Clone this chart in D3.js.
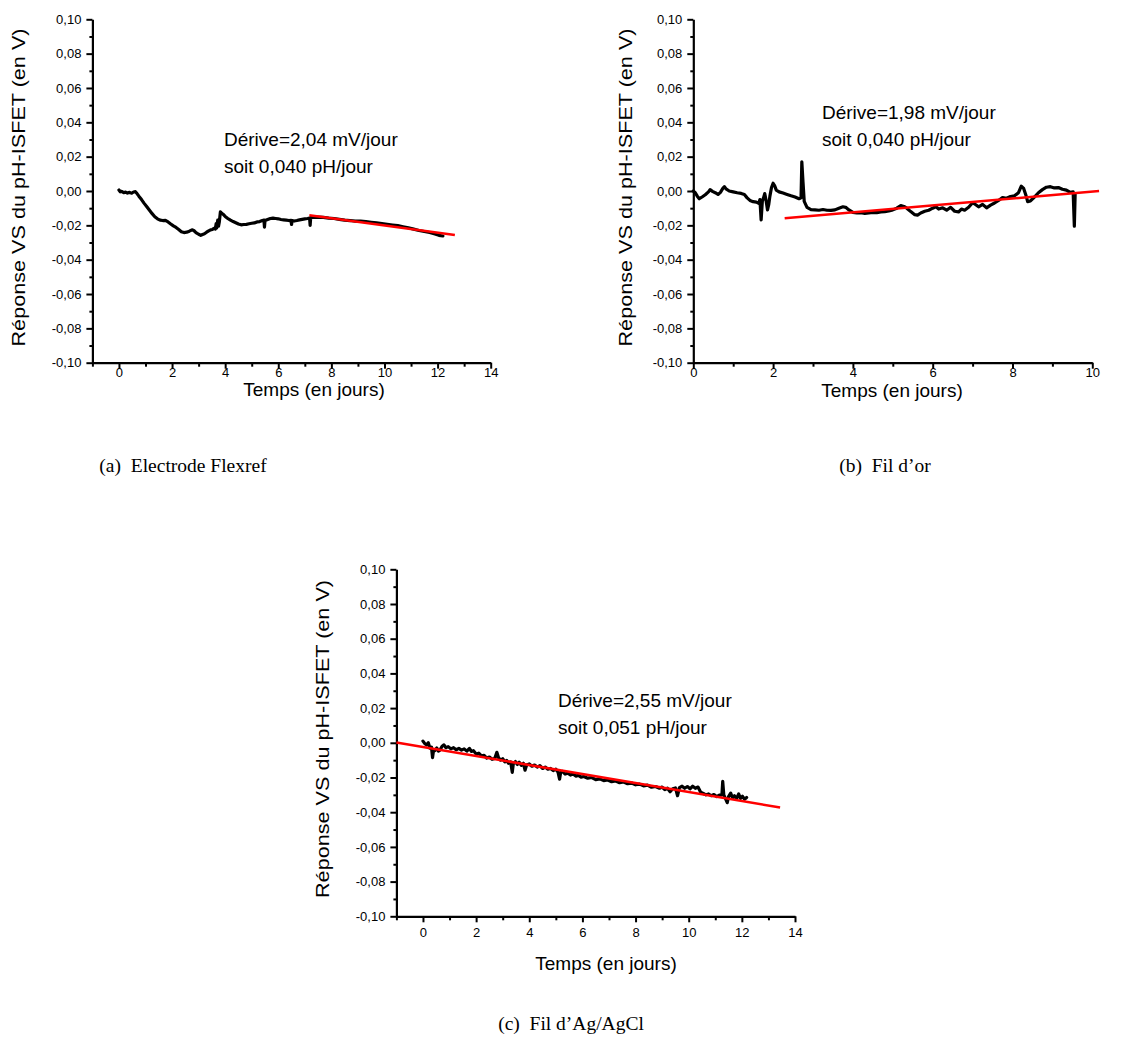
<!DOCTYPE html>
<html>
<head>
<meta charset="utf-8">
<script src="https://cdn.jsdelivr.net/npm/d3@7"></script>
<style>
  html, body { margin: 0; padding: 0; background: #fff; }
  svg { display: block; }
  .sans { font-family: "Liberation Sans", Arial, sans-serif; }
  .serif { font-family: "Liberation Serif", "Times New Roman", serif; }
</style>
</head>
<body>
<svg id="chart" width="1146" height="1056"></svg>
<script>
// ---------------- DATA ----------------
const yMajorTicks = [-0.10, -0.08, -0.06, -0.04, -0.02, 0.00, 0.02, 0.04, 0.06, 0.08, 0.10];
const yMinorTicks = [-0.09, -0.07, -0.05, -0.03, -0.01, 0.01, 0.03, 0.05, 0.07, 0.09];
const xMajorTicks14 = [0, 2, 4, 6, 8, 10, 12, 14];
const xMinorTicks14 = [-1, 1, 3, 5, 7, 9, 11, 13];
const xMajorTicks10 = [0, 2, 4, 6, 8, 10];
const xMinorTicks10 = [1, 3, 5, 7, 9];

const yTitle = "Réponse VS du pH-ISFET (en V)";
const xTitle = "Temps (en jours)";

// Panel (a) Electrode Flexref
const daysA = [0.00,0.05,0.10,0.18,0.25,0.32,0.40,0.48,0.55,0.62,0.68,0.75,0.85,0.95,1.05,1.15,1.25,1.35,1.45,1.55,1.65,1.75,1.85,1.95,2.05,2.15,2.25,2.35,2.45,2.55,2.65,2.75,2.82,2.90,3.00,3.08,3.15,3.22,3.30,3.38,3.45,3.52,3.58,3.63,3.66,3.68,3.72,3.75,3.78,3.82,3.86,3.92,4.00,4.10,4.20,4.30,4.40,4.50,4.60,4.70,4.80,4.90,5.00,5.10,5.20,5.30,5.40,5.46,5.48,5.50,5.60,5.70,5.80,5.90,6.00,6.10,6.20,6.30,6.40,6.48,6.50,6.52,6.60,6.70,6.80,6.90,7.00,7.10,7.18,7.20,7.22,7.30,7.50,7.70,7.90,8.10,8.30,8.50,8.70,8.90,9.10,9.30,9.50,9.70,9.90,10.10,10.30,10.50,10.70,10.90,11.10,11.30,11.50,11.70,11.90,12.05,12.20];
const voltsA = [0.0006,-0.0005,-0.0002,-0.0010,-0.0006,-0.0012,-0.0008,-0.0013,-0.0006,-0.0004,-0.0015,-0.0030,-0.0050,-0.0072,-0.0092,-0.0112,-0.0132,-0.0150,-0.0162,-0.0170,-0.0172,-0.0171,-0.0180,-0.0192,-0.0203,-0.0212,-0.0224,-0.0237,-0.0242,-0.0240,-0.0234,-0.0226,-0.0230,-0.0242,-0.0252,-0.0258,-0.0253,-0.0249,-0.0240,-0.0232,-0.0226,-0.0224,-0.0218,-0.0222,-0.0190,-0.0215,-0.0170,-0.0205,-0.0180,-0.0122,-0.0128,-0.0135,-0.0148,-0.0160,-0.0170,-0.0178,-0.0185,-0.0192,-0.0197,-0.0195,-0.0194,-0.0191,-0.0188,-0.0186,-0.0180,-0.0178,-0.0172,-0.0170,-0.0210,-0.0172,-0.0166,-0.0160,-0.0158,-0.0160,-0.0162,-0.0166,-0.0168,-0.0170,-0.0172,-0.0171,-0.0195,-0.0172,-0.0175,-0.0172,-0.0168,-0.0165,-0.0162,-0.0160,-0.0158,-0.0200,-0.0155,-0.0154,-0.0152,-0.0154,-0.0158,-0.0160,-0.0165,-0.0170,-0.0172,-0.0175,-0.0176,-0.0178,-0.0182,-0.0186,-0.0190,-0.0194,-0.0198,-0.0202,-0.0208,-0.0214,-0.0222,-0.0230,-0.0236,-0.0242,-0.0250,-0.0258,-0.0262];
const fitDaysA = [7.17, 12.65];
const fitVoltsA = [-0.0141, -0.0256];
const noteA = ["Dérive=2,04 mV/jour", "soit 0,040 pH/jour"];
const captionA = "(a)  Electrode Flexref";

// Panel (b) Fil d'or
const daysB = [0.00,0.05,0.10,0.15,0.22,0.30,0.38,0.42,0.48,0.55,0.62,0.68,0.74,0.78,0.82,0.90,1.00,1.10,1.20,1.28,1.35,1.42,1.50,1.58,1.64,1.67,1.70,1.73,1.76,1.79,1.82,1.86,1.89,1.92,1.96,2.00,2.04,2.08,2.15,2.25,2.35,2.45,2.55,2.65,2.70,2.72,2.75,2.78,2.85,2.95,3.05,3.15,3.25,3.35,3.45,3.55,3.65,3.75,3.82,3.90,4.00,4.10,4.20,4.30,4.40,4.50,4.60,4.70,4.80,4.90,5.00,5.10,5.20,5.28,5.35,5.45,5.55,5.62,5.70,5.80,5.90,6.00,6.08,6.15,6.25,6.35,6.45,6.55,6.65,6.72,6.80,6.90,7.00,7.08,7.15,7.25,7.35,7.45,7.55,7.65,7.75,7.85,7.95,8.05,8.15,8.22,8.28,8.33,8.38,8.45,8.55,8.65,8.75,8.85,8.95,9.05,9.15,9.25,9.35,9.45,9.52,9.55,9.57];
const voltsB = [0.0000,-0.0010,-0.0030,-0.0045,-0.0035,-0.0022,-0.0005,0.0008,-0.0002,-0.0010,-0.0020,-0.0008,0.0015,0.0025,0.0012,0.0000,-0.0005,-0.0010,-0.0014,-0.0020,-0.0040,-0.0055,-0.0062,-0.0065,-0.0072,-0.0050,-0.0168,-0.0060,-0.0040,-0.0015,-0.0050,-0.0110,-0.0080,-0.0030,0.0020,0.0045,0.0030,0.0005,-0.0005,-0.0012,-0.0020,-0.0028,-0.0035,-0.0045,-0.0040,0.0170,0.0050,-0.0060,-0.0095,-0.0108,-0.0110,-0.0112,-0.0108,-0.0112,-0.0113,-0.0110,-0.0100,-0.0092,-0.0095,-0.0110,-0.0125,-0.0128,-0.0126,-0.0130,-0.0128,-0.0125,-0.0126,-0.0122,-0.0120,-0.0116,-0.0110,-0.0100,-0.0085,-0.0090,-0.0100,-0.0120,-0.0138,-0.0140,-0.0128,-0.0118,-0.0112,-0.0100,-0.0092,-0.0105,-0.0098,-0.0112,-0.0095,-0.0118,-0.0122,-0.0105,-0.0112,-0.0095,-0.0068,-0.0080,-0.0092,-0.0078,-0.0098,-0.0082,-0.0070,-0.0055,-0.0038,-0.0042,-0.0032,-0.0028,-0.0010,0.0028,0.0015,-0.0020,-0.0062,-0.0058,-0.0035,-0.0010,0.0008,0.0022,0.0025,0.0018,0.0020,0.0010,0.0005,-0.0008,-0.0005,-0.0205,-0.0020];
const fitDaysB = [2.29, 10.17];
const fitVoltsB = [-0.0159, 0.0000];
const noteB = ["Dérive=1,98 mV/jour", "soit 0,040 pH/jour"];
const captionB = "(b)  Fil d’or";

// Panel (c) Fil d'Ag/AgCl
const daysC = [0.00,0.07,0.14,0.20,0.26,0.32,0.36,0.40,0.45,0.52,0.58,0.64,0.72,0.79,0.86,0.95,1.05,1.15,1.25,1.35,1.45,1.55,1.65,1.75,1.82,1.90,2.00,2.10,2.20,2.30,2.40,2.50,2.60,2.70,2.78,2.84,2.92,3.00,3.08,3.15,3.22,3.30,3.36,3.40,3.48,3.55,3.62,3.70,3.78,3.84,3.90,4.00,4.10,4.20,4.30,4.40,4.50,4.60,4.70,4.80,4.90,5.00,5.08,5.14,5.18,5.25,5.35,5.45,5.55,5.65,5.75,5.85,5.95,6.05,6.20,6.35,6.50,6.65,6.80,6.95,7.10,7.25,7.40,7.55,7.70,7.85,8.00,8.15,8.30,8.45,8.60,8.75,8.90,9.00,9.10,9.20,9.30,9.40,9.50,9.58,9.65,9.75,9.85,9.95,10.05,10.15,10.25,10.35,10.45,10.55,10.65,10.75,10.85,10.95,11.05,11.15,11.25,11.28,11.32,11.38,11.45,11.50,11.58,11.65,11.72,11.80,11.88,11.95,12.02,12.10,12.18];
const voltsC = [0.0010,-0.0005,-0.0012,0.0000,-0.0030,-0.0025,-0.0085,-0.0040,-0.0045,-0.0030,-0.0048,-0.0042,-0.0020,-0.0012,-0.0028,-0.0022,-0.0035,-0.0028,-0.0040,-0.0032,-0.0042,-0.0035,-0.0048,-0.0032,-0.0050,-0.0045,-0.0065,-0.0060,-0.0075,-0.0072,-0.0088,-0.0082,-0.0095,-0.0090,-0.0055,-0.0085,-0.0100,-0.0092,-0.0110,-0.0102,-0.0118,-0.0110,-0.0170,-0.0120,-0.0108,-0.0125,-0.0112,-0.0130,-0.0118,-0.0158,-0.0128,-0.0122,-0.0135,-0.0128,-0.0140,-0.0132,-0.0148,-0.0140,-0.0152,-0.0148,-0.0160,-0.0152,-0.0168,-0.0210,-0.0172,-0.0165,-0.0180,-0.0175,-0.0186,-0.0180,-0.0192,-0.0188,-0.0198,-0.0194,-0.0204,-0.0200,-0.0212,-0.0208,-0.0218,-0.0214,-0.0224,-0.0220,-0.0230,-0.0226,-0.0236,-0.0232,-0.0242,-0.0238,-0.0248,-0.0244,-0.0256,-0.0252,-0.0262,-0.0255,-0.0270,-0.0262,-0.0282,-0.0265,-0.0260,-0.0305,-0.0258,-0.0250,-0.0262,-0.0252,-0.0265,-0.0250,-0.0262,-0.0255,-0.0285,-0.0292,-0.0300,-0.0295,-0.0305,-0.0298,-0.0310,-0.0302,-0.0300,-0.0222,-0.0300,-0.0320,-0.0345,-0.0310,-0.0290,-0.0318,-0.0305,-0.0322,-0.0295,-0.0320,-0.0308,-0.0325,-0.0315];
const fitDaysC = [-1.0, 13.44];
const fitVoltsC = [0.0002, -0.0373];
const noteC = ["Dérive=2,55 mV/jour", "soit 0,051 pH/jour"];
const captionC = "(c)  Fil d’Ag/AgCl";

// ---------------- LAYOUT ----------------
const panels = [
  { days: daysA, volts: voltsA, fitDays: fitDaysA, fitVolts: fitVoltsA, note: noteA, caption: captionA,
    xDomain: [-1, 14], xPx: [92.4, 490.7], yPx: [362.7, 19.3],
    xMajor: xMajorTicks14, xMinor: xMinorTicks14, xLabelPad: -1,
    noteX: 224, noteY: 145.5, yTitleX: 25, yTitleY: 187.5, xTitleX: 314, xTitleY: 396,
    capX: 183, capY: 472 },
  { days: daysB, volts: voltsB, fitDays: fitDaysB, fitVolts: fitVoltsB, note: noteB, caption: captionB,
    xDomain: [0, 10], xPx: [693.3, 1092.3], yPx: [362.7, 19.3],
    xMajor: xMajorTicks10, xMinor: xMinorTicks10, xLabelPad: -0.5,
    noteX: 822, noteY: 119, yTitleX: 631.5, yTitleY: 187.5, xTitleX: 892, xTitleY: 397,
    capX: 885, capY: 472 },
  { days: daysC, volts: voltsC, fitDays: fitDaysC, fitVolts: fitVoltsC, note: noteC, caption: captionC,
    xDomain: [-1, 14], xPx: [396.4, 795], yPx: [916.3, 569.3],
    xMajor: xMajorTicks14, xMinor: xMinorTicks14, xLabelPad: 5,
    noteX: 558, noteY: 707, yTitleX: 329, yTitleY: 739, xTitleX: 606, xTitleY: 970,
    capX: 571, capY: 1030 }
];

const svg = d3.select("#chart");
const fmtY = d => d3.format(".2f")(d).replace("\u2212", "-").replace(".", ",");
const fmtX = d => String(d);

panels.forEach(p => {
  const x = d3.scaleLinear().domain(p.xDomain).range(p.xPx);
  const y = d3.scaleLinear().domain([-0.10, 0.10]).range(p.yPx);
  const g = svg.append("g").attr("class", "sans");

  // minor ticks Y
  const yMinorAxis = d3.axisLeft(y).tickValues(yMinorTicks).tickSize(3).tickSizeOuter(0).tickFormat("");
  g.append("g").attr("transform", `translate(${p.xPx[0]},0)`).call(yMinorAxis)
    .call(s => s.select(".domain").remove())
    .call(s => s.selectAll("line").attr("stroke", "#000").attr("stroke-width", 2));
  // major ticks Y
  const yAxis = d3.axisLeft(y).tickValues(yMajorTicks).tickSize(6).tickSizeOuter(0).tickPadding(5).tickFormat(fmtY);
  g.append("g").attr("transform", `translate(${p.xPx[0]},0)`).call(yAxis)
    .call(s => s.select(".domain").attr("stroke", "#000").attr("stroke-width", 2.2))
    .call(s => s.selectAll("line").attr("stroke", "#000").attr("stroke-width", 2))
    .call(s => s.selectAll("text").attr("font-size", 13).attr("fill", "#000")
      .attr("font-family", "'Liberation Sans', Arial, sans-serif"));

  // minor ticks X
  const xMinorAxis = d3.axisBottom(x).tickValues(p.xMinor).tickSize(4).tickSizeOuter(0).tickFormat("");
  g.append("g").attr("transform", `translate(0,${p.yPx[0]})`).call(xMinorAxis)
    .call(s => s.select(".domain").remove())
    .call(s => s.selectAll("line").attr("stroke", "#000").attr("stroke-width", 2));
  // major ticks X
  const xAxis = d3.axisBottom(x).tickValues(p.xMajor).tickSize(6).tickSizeOuter(0).tickPadding(p.xLabelPad).tickFormat(fmtX);
  g.append("g").attr("transform", `translate(0,${p.yPx[0]})`).call(xAxis)
    .call(s => s.select(".domain").attr("stroke", "#000").attr("stroke-width", 2.2))
    .call(s => s.selectAll("line").attr("stroke", "#000").attr("stroke-width", 2))
    .call(s => s.selectAll("text").attr("font-size", 13).attr("fill", "#000")
      .attr("font-family", "'Liberation Sans', Arial, sans-serif"));

  // data curve
  const pts = p.days.map((d, i) => [d, p.volts[i]]);
  const line = d3.line().x(d => x(d[0])).y(d => y(d[1]));
  g.append("path").datum(pts).attr("d", line)
    .attr("fill", "none").attr("stroke", "#000").attr("stroke-width", 3.2)
    .attr("stroke-linejoin", "round").attr("stroke-linecap", "round");

  // linear fit
  const fit = p.fitDays.map((d, i) => [d, p.fitVolts[i]]);
  g.append("path").datum(fit).attr("d", line)
    .attr("fill", "none").attr("stroke", "#ff0000").attr("stroke-width", 2.5);

  // annotation
  p.note.forEach((t, i) => {
    g.append("text").attr("x", p.noteX).attr("y", p.noteY + i * 27)
      .attr("font-size", 19).attr("fill", "#000").text(t);
  });

  // axis titles
  g.append("text").attr("transform", `translate(${p.yTitleX},${p.yTitleY}) rotate(-90)`)
    .attr("text-anchor", "middle").attr("font-size", 19).attr("fill", "#000")
    .attr("textLength", 318).attr("lengthAdjust", "spacingAndGlyphs")
    .text(yTitle);
  g.append("text").attr("x", p.xTitleX).attr("y", p.xTitleY)
    .attr("text-anchor", "middle").attr("font-size", 19).attr("fill", "#000")
    .text(xTitle);

  // caption
  svg.append("text").attr("class", "serif").attr("x", p.capX).attr("y", p.capY)
    .attr("text-anchor", "middle").attr("font-size", 19.5).attr("fill", "#000")
    .style("white-space", "pre").text(p.caption);
});
</script>
</body>
</html>
